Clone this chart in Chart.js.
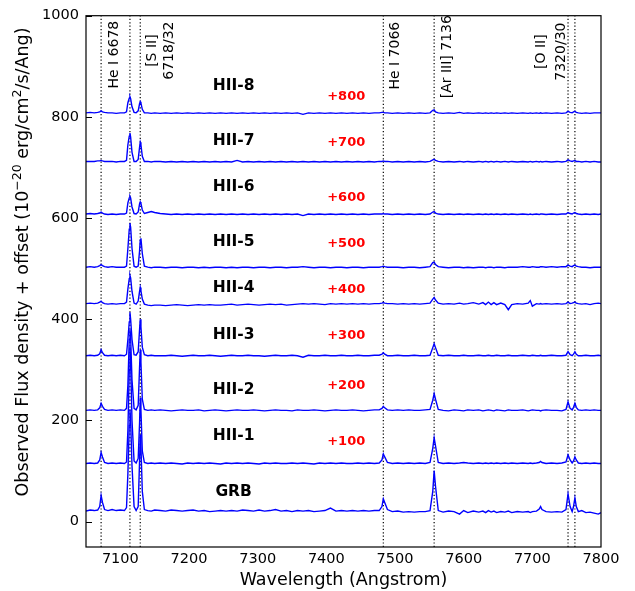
<!DOCTYPE html>
<html>
<head>
<meta charset="utf-8">
<script src="https://cdn.jsdelivr.net/npm/chart.js@4.4.1/dist/chart.umd.min.js"></script>
<style>
  html, body { margin: 0; padding: 0; background: #fff; }
  canvas { display: block; }
</style>
</head>
<body>
<canvas id="spec" width="635" height="591"></canvas>
<script>
// wavelength grid (Angstrom), shared by all spectra
var wl = [
  7050, 7056, 7062, 7067, 7070, 7072, 7074, 7077, 7082, 7088, 7094, 7100, 7106,
  7109, 7111, 7113, 7114, 7115, 7117, 7120, 7123, 7126, 7128, 7129, 7130, 7132, 7135,
  7140, 7145, 7150,
  7158, 7166, 7174, 7182, 7190, 7198, 7206, 7214, 7222, 7230,
  7238, 7246, 7254, 7262, 7270, 7278, 7286, 7294, 7302, 7310,
  7318, 7326, 7334, 7342, 7350, 7358, 7366, 7374, 7382, 7390,
  7398, 7406, 7414, 7422, 7430, 7438, 7446, 7454, 7462, 7470,
  7477, 7481, 7483, 7485, 7489, 7496,
  7504, 7512, 7520, 7528, 7536, 7544,
  7551, 7555, 7557, 7559, 7563,
  7570, 7578, 7586, 7594, 7600, 7606, 7614, 7622, 7628, 7632,
  7636, 7640, 7644, 7648, 7654, 7660, 7665, 7670, 7678, 7686,
  7694, 7697, 7700, 7706, 7710, 7712, 7714, 7720, 7728, 7736,
  7743,
  7749, 7752, 7755, 7758, 7760, 7762, 7764, 7767,
  7772, 7778, 7784, 7790, 7796, 7800
];

// observed flux (1e-20 erg/cm2/s/Ang), before the offset
var fluxGRB = [
  21, 23, 22, 23, 30, 52, 38, 24, 22, 24, 22, 23, 22,
  28, 95, 190, 222, 200, 110, 30, 22, 30, 120, 172, 150, 60, 24,
  22, 21, 23,
  22, 21, 23, 22, 21, 22, 23, 21, 22, 20,
  21, 22, 21, 22, 21, 23, 22, 21, 23, 21,
  22, 24, 21, 22, 20, 22, 21, 22, 20, 21,
  22, 27, 21, 22, 21, 22, 21, 22, 21, 22,
  22, 30, 45, 38, 24, 20,
  21, 19, 20, 19, 20, 20,
  22, 60, 101, 70, 22,
  19, 21, 20, 15, 22, 18, 21, 19, 21, 18,
  22, 19, 21, 18, 20, 19, 21, 18, 20, 19,
  20, 18, 20, 21, 25, 30, 24, 20, 19, 20,
  19,
  24, 55, 30, 20, 30, 47, 30, 20,
  22, 18, 19, 17, 15, 18
];
var fluxHII1 = [
  15, 16, 15, 16, 22, 37, 28, 17, 15, 16, 15, 16, 15,
  18, 80, 200, 245, 215, 100, 20, 16, 25, 95, 145, 120, 40, 17,
  15, 16, 15,
  16, 15, 16, 15, 14, 16, 15, 16, 15, 16,
  15, 14, 16, 15, 16, 15, 16, 15, 14, 16,
  15, 16, 15, 15, 16, 15, 16, 15, 14, 16,
  15, 16, 15, 16, 15, 15, 16, 15, 16, 15,
  16, 22, 34, 28, 17, 15,
  16, 15, 16, 15, 16, 15,
  17, 45, 66, 50, 17,
  15, 16, 15, 16, 17, 16, 15, 16, 15, 16,
  15, 16, 15, 16, 15, 16, 15, 16, 15, 16,
  15, 16, 15, 16, 17, 19, 17, 15, 16, 15,
  16,
  18, 32, 22, 16, 20, 28, 22, 16,
  15, 16, 15, 16, 15, 15
];
var fluxHII2 = [
  20, 21, 20, 21, 25, 34, 28, 22, 20, 21, 20, 21, 20,
  24, 70, 160, 180, 165, 80, 24, 21, 30, 105, 140, 115, 42, 22,
  20, 21, 20,
  21, 20, 19, 20, 21, 20, 20, 21, 19, 20,
  21, 20, 19, 20, 21, 20, 20, 21, 20, 19,
  20, 21, 20, 20, 19, 21, 20, 20, 21, 20,
  19, 20, 21, 20, 20, 21, 20, 19, 20, 21,
  21, 24, 28, 25, 21, 20,
  21, 20, 21, 20, 20, 21,
  22, 40, 53, 42, 22,
  20, 19, 21, 20, 19, 21, 20, 21, 19, 20,
  21, 20, 19, 21, 20, 19, 21, 20, 20, 21,
  19, 20, 21, 20, 20, 19, 20, 21, 20, 20,
  19,
  22, 37, 24, 21, 26, 34, 26, 21,
  20, 21, 20, 21, 20, 20
];
var fluxHII3 = [
  28, 29, 28, 29, 32, 40, 34, 29, 28, 29, 28, 29, 28,
  31, 60, 95, 114, 100, 60, 30, 29, 36, 80, 100, 85, 45, 30,
  28, 29, 28,
  28, 28, 29, 28, 27, 28, 29, 28, 28, 29,
  28, 27, 28, 29, 28, 28, 29, 28, 28, 27,
  28, 29, 28, 28, 29, 28, 25, 29, 28, 28,
  29, 28, 28, 29, 28, 28, 29, 28, 28, 29,
  29, 31, 34, 31, 28, 28,
  29, 28, 28, 29, 28, 28,
  29, 44, 52, 44, 29,
  28, 29, 28, 28, 29, 28, 28, 29, 28, 28,
  29, 28, 28, 29, 28, 28, 29, 28, 28, 29,
  28, 28, 29, 28, 28, 29, 28, 28, 29, 28,
  28,
  29, 36, 30, 28, 31, 36, 31, 28,
  28, 29, 28, 28, 29, 28
];
var fluxHII4 = [
  31, 32, 31, 32, 34, 36, 33, 31, 30, 31, 30, 31, 31,
  34, 60, 80, 87, 82, 55, 32, 30, 36, 55, 63, 56, 40, 30,
  28, 27, 28,
  28, 27, 28, 29, 28, 27, 28, 29, 28, 29,
  28, 28, 29, 30, 28, 29, 30, 29, 28, 29,
  30, 29, 30, 28, 29, 30, 31, 30, 31, 30,
  29, 31, 30, 31, 30, 31, 30, 31, 30, 31,
  31, 32, 33, 32, 31, 31,
  30, 31, 30, 31, 30, 31,
  32, 40, 43, 38, 32,
  30, 31, 30, 32, 30, 31, 33, 30, 33, 29,
  34, 29, 33, 29, 32, 29, 19, 29, 31, 30,
  32, 37, 26, 31, 30, 31, 30, 31, 30, 31,
  30,
  31, 34, 31, 32, 33, 34, 32, 31,
  30, 31, 29, 31, 32, 31
];
var fluxHII5 = [
  3, 4, 3, 4, 6, 8, 6, 4, 3, 4, 3, 3, 3,
  5, 40, 78, 90, 82, 40, 5, 3, 5, 35, 57, 60, 30, 5,
  3, 2, 3,
  3, 2, 3, 3, 2, 3, 3, 2, 3, 2,
  3, 3, 2, 3, 2, 3, 3, 2, 3, 3,
  2, 3, 3, 2, 3, 3, 4, 3, 2, 3,
  3, 2, 3, 3, 2, 3, 3, 2, 3, 3,
  3, 4, 5, 4, 3, 3,
  3, 2, 3, 3, 2, 3,
  4, 12, 13, 8, 4,
  3, 2, 3, 3, 2, 3, 2, 3, 3, 2,
  3, 3, 2, 3, 3, 2, 3, 3, 3, 4,
  3, 3, 4, 3, 3, 4, 4, 3, 4, 3,
  4,
  4, 7, 5, 4, 6, 7, 5, 4,
  3, 3, 2, 3, 3, 3
];
var fluxHII6 = [
  8, 9, 8, 9, 10, 12, 10, 8, 7, 8, 7, 8, 8,
  10, 30, 40, 43, 40, 22, 9, 8, 12, 28, 32, 29, 16, 9,
  11, 13, 11,
  9, 8, 7, 8, 7, 8, 7, 8, 7, 8,
  7, 8, 7, 8, 7, 8, 7, 8, 7, 8,
  7, 8, 7, 8, 7, 8, 5, 8, 7, 8,
  7, 8, 7, 8, 7, 8, 7, 8, 7, 8,
  8, 8, 9, 8, 8, 7,
  8, 7, 8, 7, 8, 7,
  8, 12, 13, 10, 8,
  7, 8, 7, 8, 7, 8, 7, 8, 7, 8,
  7, 8, 7, 8, 7, 8, 7, 8, 7, 8,
  7, 8, 7, 8, 7, 8, 8, 7, 8, 7,
  8,
  8, 11, 9, 8, 10, 11, 9, 8,
  7, 8, 7, 8, 7, 8
];
var fluxHII7 = [
  12, 12, 12, 13, 13, 14, 13, 12, 12, 12, 11, 12, 12,
  14, 45, 62, 68, 60, 30, 12, 12, 16, 40, 50, 45, 22, 12,
  12, 11, 12,
  12, 11, 12, 11, 12, 11, 12, 11, 12, 11,
  12, 11, 12, 11, 14, 11, 12, 11, 12, 11,
  12, 11, 12, 11, 12, 11, 12, 11, 12, 11,
  12, 11, 12, 11, 12, 11, 12, 11, 12, 11,
  12, 12, 13, 12, 12, 11,
  12, 11, 12, 11, 12, 11,
  12, 15, 16, 14, 12,
  11, 12, 11, 12, 11, 12, 11, 12, 11, 12,
  11, 12, 11, 12, 11, 12, 11, 12, 11, 12,
  11, 12, 11, 12, 11, 12, 11, 12, 11, 12,
  11,
  12, 15, 13, 12, 13, 14, 12, 12,
  11, 12, 11, 12, 11, 11
];
var fluxHII8 = [
  8, 9, 8, 9, 10, 12, 10, 9, 8, 8, 7, 8, 8,
  10, 28, 37, 40, 36, 20, 9, 8, 12, 26, 30, 27, 15, 8,
  8, 7, 8,
  7, 8, 7, 8, 7, 8, 7, 8, 7, 8,
  7, 8, 7, 8, 7, 8, 7, 8, 7, 8,
  7, 8, 7, 8, 7, 8, 5, 8, 7, 8,
  7, 8, 7, 8, 7, 8, 7, 8, 7, 8,
  8, 9, 9, 8, 8, 7,
  8, 7, 8, 7, 8, 7,
  8, 13, 14, 10, 8,
  7, 8, 7, 9, 7, 8, 7, 8, 7, 8,
  7, 8, 7, 8, 7, 8, 7, 8, 7, 8,
  7, 8, 7, 8, 7, 8, 7, 8, 7, 8,
  7,
  8, 11, 9, 8, 10, 11, 9, 8,
  7, 8, 7, 8, 8, 8
];

var names = ['GRB', 'HII-1', 'HII-2', 'HII-3', 'HII-4', 'HII-5', 'HII-6', 'HII-7', 'HII-8'];
var offsets = [0, 100, 200, 300, 400, 500, 600, 700, 800];
var fluxes = [fluxGRB, fluxHII1, fluxHII2, fluxHII3, fluxHII4, fluxHII5, fluxHII6, fluxHII7, fluxHII8];

// redshifted line positions (Angstrom) for the dotted markers
var lineWl = [7072, 7114, 7129, 7483, 7557, 7752, 7762];
var xTicks = [7100, 7200, 7300, 7400, 7500, 7600, 7700, 7800];
var yTicks = [0, 200, 400, 600, 800, 1000];

// annotation placement (data coords)
var nameX = 7265;
var nameY = [59, 170, 261, 370, 461, 552, 661, 752, 861];
var offX = 7429;
var offY = [null, 158, 269, 368, 459, 550, 640, 750, 840];
var lineText = ['He I 6678', '[S II]', '6718/32', 'He I 7066', '[Ar III] 7136', '[O II]', '7320/30'];
var lineTextX = [7091, 7146, 7171, 7501, 7576, 7713, 7742];
var lineTextY = [923, 931, 931, 921, 919, 929, 929];

fluxes.forEach(function (f, i) {
  if (f.length !== wl.length) throw new Error(names[i] + ' has ' + f.length + ' points, grid has ' + wl.length);
});

var FONT = 'DejaVu Sans';
Chart.defaults.font.family = FONT;
Chart.defaults.color = '#000';

var datasets = [];
lineWl.forEach(function (w) {
  datasets.push({
    data: [{x: w, y: -50}, {x: w, y: 1000}],
    showLine: true,
    borderColor: '#000',
    borderWidth: 1.2,
    borderDash: [1.2, 2.2],
    pointRadius: 0,
    order: 2
  });
});
fluxes.forEach(function (f, i) {
  datasets.push({
    label: names[i],
    data: wl.map(function (w, k) { return {x: w, y: f[k] + offsets[i]}; }),
    showLine: true,
    borderColor: '#0000ff',
    borderWidth: 1.4,
    pointRadius: 0,
    tension: 0,
    order: 1
  });
});

// y title with raised exponents, like matplotlib mathtext
function drawYTitle(ctx, cx, cy) {
  var parts = [
    ['Observed Flux density + offset (10', 0],
    ['\u221220', 1],
    [' erg/cm', 0],
    ['2', 1],
    ['/s/Ang)', 0]
  ];
  var big = '17.5px "' + FONT + '"', small = '12.5px "' + FONT + '"';
  var total = 0;
  parts.forEach(function (p) {
    ctx.font = p[1] ? small : big;
    total += ctx.measureText(p[0]).width;
  });
  ctx.save();
  ctx.translate(cx, cy);
  ctx.rotate(-Math.PI / 2);
  ctx.textAlign = 'left';
  ctx.textBaseline = 'alphabetic';
  var pos = -total / 2;
  parts.forEach(function (p) {
    ctx.font = p[1] ? small : big;
    ctx.fillText(p[0], pos, p[1] ? -1 : 6);
    pos += ctx.measureText(p[0]).width;
  });
  ctx.restore();
}

var decor = {
  id: 'decor',
  afterDraw: function (chart) {
    var ctx = chart.ctx, a = chart.chartArea;
    var x = chart.scales.x, y = chart.scales.y;
    ctx.save();
    ctx.strokeStyle = '#000';
    ctx.lineWidth = 1.2;
    ctx.strokeRect(a.left, a.top, a.right - a.left, a.bottom - a.top);
    ctx.beginPath();
    yTicks.forEach(function (v) {
      var py = Math.round(y.getPixelForValue(v)) + 0.5;
      ctx.moveTo(a.left, py);
      ctx.lineTo(a.left + 6, py);
    });
    ctx.stroke();

    ctx.textAlign = 'center';
    ctx.textBaseline = 'middle';
    ctx.fillStyle = '#000';
    ctx.font = 'bold 15.5px "' + FONT + '"';
    names.forEach(function (n, i) {
      ctx.fillText(n, x.getPixelForValue(nameX), y.getPixelForValue(nameY[i]));
    });
    ctx.fillStyle = '#ff0000';
    ctx.font = 'bold 13px "' + FONT + '"';
    offsets.forEach(function (o, i) {
      if (!o) return;
      ctx.fillText('+' + o, x.getPixelForValue(offX), y.getPixelForValue(offY[i]));
    });

    ctx.fillStyle = '#000';
    ctx.font = '14px "' + FONT + '"';
    lineText.forEach(function (t, i) {
      ctx.save();
      ctx.translate(x.getPixelForValue(lineTextX[i]), y.getPixelForValue(lineTextY[i]));
      ctx.rotate(-Math.PI / 2);
      ctx.fillText(t, 0, 0);
      ctx.restore();
    });
    ctx.restore();

    drawYTitle(ctx, 22, 262);
  }
};

new Chart(document.getElementById('spec'), {
  type: 'scatter',
  data: {datasets: datasets},
  options: {
    responsive: false,
    animation: false,
    devicePixelRatio: 1,
    layout: {padding: {left: 0, top: 15, right: 34, bottom: 0}},
    plugins: {legend: {display: false}, tooltip: {enabled: false}},
    scales: {
      x: {
        type: 'linear',
        min: 7050,
        max: 7800,
        afterBuildTicks: function (s) { s.ticks = xTicks.map(function (v) { return {value: v}; }); },
        afterFit: function (s) { s.height = 44; },
        ticks: {font: {size: 14.5}, padding: 4, maxRotation: 0, color: '#000',
                callback: function (v) { return String(v); }},
        grid: {display: false, drawTicks: false},
        border: {display: false},
        title: {display: true, text: 'Wavelength (Angstrom)', font: {size: 17.5}, padding: {top: 0, bottom: 0}, color: '#000'}
      },
      y: {
        type: 'linear',
        min: -50,
        max: 1000,
        afterBuildTicks: function (s) { s.ticks = yTicks.map(function (v) { return {value: v}; }); },
        afterFit: function (s) { s.width = 86; },
        ticks: {font: {size: 14.5}, padding: 7, color: '#000',
                callback: function (v) { return String(v); }},
        grid: {display: false, drawTicks: false},
        border: {display: false}
      }
    }
  },
  plugins: [decor]
});
</script>
</body>
</html>
